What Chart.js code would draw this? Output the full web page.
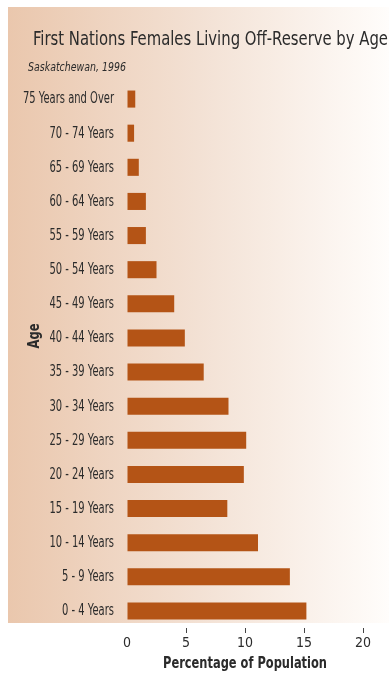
<!DOCTYPE html>
<html>
<head>
<meta charset="utf-8">
<script src="https://cdn.jsdelivr.net/npm/chart.js@4.4.1/dist/chart.umd.min.js"></script>
<style>
  html, body { margin: 0; padding: 0; background: #fff; }
  #wrap { width: 389px; height: 673px; position: relative; }
</style>
</head>
<body>
<div id="wrap"><canvas id="ageChart"></canvas></div>
<script>
// Age groups, top to bottom
const ageGroups = [
  '75 Years and Over', '70 - 74 Years', '65 - 69 Years', '60 - 64 Years',
  '55 - 59 Years', '50 - 54 Years', '45 - 49 Years', '40 - 44 Years',
  '35 - 39 Years', '30 - 34 Years', '25 - 29 Years', '20 - 24 Years',
  '15 - 19 Years', '10 - 14 Years', '5 - 9 Years', '0 - 4 Years'
];
// % of off-reserve First Nations females in each age group
const femalePct = [0.7, 0.6, 1.0, 1.6, 1.6, 2.5, 4.0, 4.9, 6.5, 8.6, 10.1, 9.9, 8.5, 11.1, 13.8, 15.2];
const xTicks = [0, 5, 10, 15, 20];

const FONT = "'DejaVu Sans Condensed', 'DejaVu Sans', sans-serif";
const INK = '#2b2b2b';

// squeeze text horizontally by factor s
function squeezeText(ctx, text, x, y, s, align) {
  ctx.save();
  ctx.translate(x, y);
  ctx.scale(s, 1);
  ctx.textAlign = align;
  ctx.fillText(text, 0, 0);
  ctx.restore();
}
// squeeze text so it spans the given width
function fitText(ctx, text, x, y, width, align) {
  squeezeText(ctx, text, x, y, width / ctx.measureText(text).width, align);
}

const panelBg = {
  id: 'panelBg',
  beforeDraw(chart) {
    const ctx = chart.ctx;
    const g = ctx.createLinearGradient(8, 0, 389, 0);
    g.addColorStop(0, '#eac7ad');
    g.addColorStop(0.5, '#f3e1d4');
    g.addColorStop(1, '#fffdfb');
    ctx.save();
    ctx.fillStyle = g;
    ctx.fillRect(8, 7, 381, 616);
    ctx.restore();
  }
};

// condensed category labels next to each bar
const ageLabels = {
  id: 'ageLabels',
  afterDraw(chart) {
    const ctx = chart.ctx;
    const y = chart.scales.y;
    ctx.save();
    ctx.fillStyle = INK;
    ctx.font = '15px ' + FONT;
    ctx.textBaseline = 'middle';
    const s = 91 / ctx.measureText(ageGroups[0]).width;
    ageGroups.forEach((lab, i) => {
      squeezeText(ctx, lab, 114, y.getPixelForTick(i) + 0.5, s, 'right');
    });
    ctx.restore();
  }
};

const titles = {
  id: 'titles',
  afterDraw(chart) {
    const ctx = chart.ctx;
    ctx.save();
    ctx.fillStyle = INK;
    ctx.textBaseline = 'alphabetic';

    ctx.font = '20px ' + FONT;
    fitText(ctx, 'First Nations Females Living Off-Reserve by Age', 33, 45, 355, 'left');

    ctx.font = 'italic 12px ' + FONT;
    fitText(ctx, 'Saskatchewan, 1996', 28, 71, 98, 'left');

    ctx.font = 'bold 15px ' + FONT;
    fitText(ctx, 'Percentage of Population', 245, 668, 164, 'center');

    ctx.save();
    ctx.translate(39, 336);
    ctx.rotate(-Math.PI / 2);
    ctx.font = 'bold 15px ' + FONT;
    fitText(ctx, 'Age', 0, 0, 25, 'center');
    ctx.restore();

    ctx.restore();
  }
};

new Chart(document.getElementById('ageChart'), {
  type: 'bar',
  data: {
    labels: ageGroups,
    datasets: [{
      data: femalePct,
      backgroundColor: '#b45416',
      barPercentage: 0.5,
      categoryPercentage: 1
    }]
  },
  options: {
    indexAxis: 'y',
    responsive: true,
    maintainAspectRatio: false,
    animation: false,
    layout: { padding: { top: 82, left: 0, right: 0, bottom: 0 } },
    plugins: { legend: { display: false }, tooltip: { enabled: false } },
    scales: {
      y: {
        grid: { display: false },
        border: { display: false },
        ticks: { display: false },
        afterFit(scale) { scale.width = 127; }
      },
      x: {
        min: 0,
        max: 22.2,
        afterBuildTicks(scale) { scale.ticks = xTicks.map(v => ({ value: v })); },
        grid: {
          drawOnChartArea: false,
          tickLength: 5,
          color: c => (c.tick && c.tick.value === 0) ? 'rgba(0,0,0,0)' : '#444'
        },
        border: { display: false },
        ticks: { color: INK, padding: 2, font: { family: FONT, size: 14 } },
        afterFit(scale) { scale.height = 45; }
      }
    }
  },
  plugins: [panelBg, ageLabels, titles]
});
</script>
</body>
</html>
